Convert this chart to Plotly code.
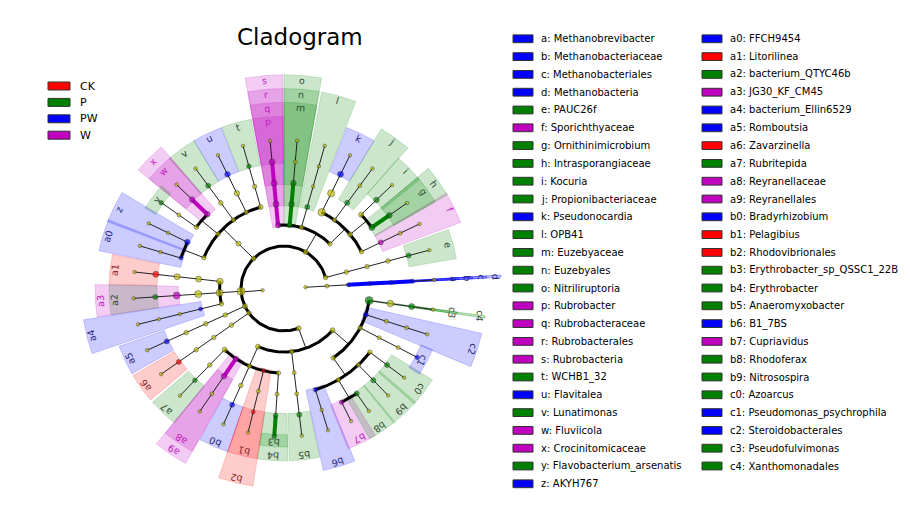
import numpy as np
import plotly.graph_objects as go

# groups
GROUPS = ["CK", "P", "PW", "W"]
GROUP_COLORS = ["#ff0000", "#008000", "#0000ff", "#bf00bf"]
LABEL_COLORS = ["#8c2626", "#2f4a2f", "#26267a", "#c020c0"]

# biomarkers (legend)
MARKER_IDS = ["a", "b", "c", "d", "e", "f", "g", "h", "i", "j", "k", "l", "m",
              "n", "o", "p", "q", "r", "s", "t", "u", "v", "w", "x", "y", "z",
              "a0", "a1", "a2", "a3", "a4", "a5", "a6", "a7", "a8", "a9",
              "b0", "b1", "b2", "b3", "b4", "b5", "b6", "b7", "b8", "b9",
              "c0", "c1", "c2", "c3", "c4"]
MARKER_NAMES = ["Methanobrevibacter", "Methanobacteriaceae", "Methanobacteriales",
                "Methanobacteria", "PAUC26f", "Sporichthyaceae", "Ornithinimicrobium",
                "Intrasporangiaceae", "Kocuria", "Propionibacteriaceae", "Pseudonocardia",
                "OPB41", "Euzebyaceae", "Euzebyales", "Nitriliruptoria", "Rubrobacter",
                "Rubrobacteraceae", "Rubrobacterales", "Rubrobacteria", "WCHB1_32",
                "Flavitalea", "Lunatimonas", "Fluviicola", "Crocinitomicaceae",
                "Flavobacterium_arsenatis", "AKYH767",
                "FFCH9454", "Litorilinea", "bacterium_QTYC46b", "JG30_KF_CM45",
                "bacterium_Ellin6529", "Romboutsia", "Zavarzinella", "Rubritepida",
                "Reyranellaceae", "Reyranellales", "Bradyrhizobium", "Pelagibius",
                "Rhodovibrionales", "Erythrobacter_sp_QSSC1_22B", "Erythrobacter",
                "Anaeromyxobacter", "B1_7BS", "Cupriavidus", "Rhodoferax", "Nitrosospira",
                "Azoarcus", "Pseudomonas_psychrophila", "Steroidobacterales",
                "Pseudofulvimonas", "Xanthomonadales"]
MARKER_GROUPS = ["PW", "PW", "PW", "PW", "P", "W", "P", "P", "P", "P", "PW", "P", "P",
                 "P", "P", "W", "W", "W", "W", "P", "PW", "P", "W", "W", "P", "PW",
                 "PW", "CK", "P", "W", "PW", "PW", "CK", "P", "W", "W",
                 "PW", "CK", "CK", "P", "P", "P", "PW", "W", "P", "P",
                 "P", "PW", "PW", "P", "P"]

# taxonomy tree: (node, parent, dot size)
TREE = [
    ("Archaea", "root", 3.5), ("Euryarchaeota", "Archaea", 4), ("d", "Euryarchaeota", 4),
    ("c", "d", 4), ("b", "c", 4), ("a", "b", 4), ("s_Methanobrevibacter", "a", 3.5),
    ("Bacteria", "root", 3.5),
    ("Acidobacteria", "Bacteria", 4.5), ("Acidobacteriia", "Acidobacteria", 4.5),
    ("Acidobacteriales", "Acidobacteriia", 4.5), ("Acidobacteriaceae", "Acidobacteriales", 4.5),
    ("e", "Acidobacteriaceae", 5), ("s_PAUC26f", "e", 3.5),
    ("Actinobacteria", "Bacteria", 5), ("Actinobacteria_c", "Actinobacteria", 4.5),
    ("Pseudonocardiales", "Actinobacteria_c", 7.5), ("Pseudonocardiaceae", "Pseudonocardiales", 7),
    ("k", "Pseudonocardiaceae", 6), ("s_Pseudonocardia", "k", 3.5),
    ("Propionibacteriales", "Actinobacteria_c", 4.5), ("j", "Propionibacteriales", 5),
    ("g_Propionibacteriaceae", "j", 4), ("s_Propionibacteriaceae", "g_Propionibacteriaceae", 3.5),
    ("Micrococcales", "Actinobacteria_c", 5), ("Micrococcaceae", "Micrococcales", 5),
    ("i", "Micrococcaceae", 5.5), ("s_Kocuria", "i", 3.5),
    ("h", "Micrococcales", 6), ("g", "h", 5.5), ("s_Ornithinimicrobium", "g", 3.5),
    ("Frankiales", "Actinobacteria_c", 4.5), ("f", "Frankiales", 5),
    ("g_Sporichthyaceae", "f", 4), ("s_Sporichthyaceae", "g_Sporichthyaceae", 3.5),
    ("Thermoleophilia", "Actinobacteria", 4.5), ("l", "Thermoleophilia", 5),
    ("f_OPB41", "l", 3.5), ("g_OPB41", "f_OPB41", 3.5), ("s_OPB41", "g_OPB41", 3.5),
    ("o", "Actinobacteria", 5), ("n", "o", 5.5), ("m", "n", 5.5),
    ("g_Euzebya", "m", 4), ("s_Euzebya", "g_Euzebya", 3.5),
    ("s", "Actinobacteria", 5.5), ("r", "s", 6), ("q", "r", 6), ("p", "q", 6),
    ("s_Rubrobacter", "p", 3.5),
    ("Bacteroidetes", "Bacteria", 5), ("Bacteroidia", "Bacteroidetes", 5),
    ("o_WCHB1_32", "Bacteroidia", 5), ("f_WCHB1_32", "o_WCHB1_32", 4.5),
    ("t", "f_WCHB1_32", 4.5), ("s_WCHB1_32", "t", 3.5),
    ("Chitinophagales", "Bacteroidia", 4.5), ("Chitinophagaceae", "Chitinophagales", 5.5),
    ("u", "Chitinophagaceae", 5.5), ("s_Flavitalea", "u", 3.5),
    ("Cytophagales", "Bacteroidia", 4.5), ("Cyclobacteriaceae", "Cytophagales", 4.5),
    ("v", "Cyclobacteriaceae", 5), ("s_Lunatimonas", "v", 3.5),
    ("Flavobacteriales", "Bacteroidia", 4.5), ("x", "Flavobacteriales", 5.5),
    ("w", "x", 5.5), ("s_Fluviicola", "w", 3.5),
    ("Flavobacteriaceae", "Flavobacteriales", 4.5), ("Flavobacterium", "Flavobacteriaceae", 4),
    ("y", "Flavobacterium", 4.5),
    ("o_AKYH767", "Bacteroidia", 4.5), ("z", "o_AKYH767", 5.5),
    ("g_AKYH767", "z", 3.5), ("s_AKYH767", "g_AKYH767", 3.5),
    ("a0", "o_AKYH767", 4), ("g_FFCH9454", "a0", 3.5), ("s_FFCH9454", "g_FFCH9454", 3.5),
    ("Chloroflexi", "Bacteria", 8), ("Anaerolineae", "Chloroflexi", 6.5),
    ("Anaerolineales", "Anaerolineae", 6), ("Anaerolineaceae", "Anaerolineales", 6),
    ("a1", "Anaerolineaceae", 6), ("s_Litorilinea", "a1", 3.5),
    ("Chloroflexia", "Chloroflexi", 7), ("o_JG30_KF_CM45", "Chloroflexia", 7),
    ("a3", "o_JG30_KF_CM45", 7), ("a2", "a3", 5), ("s_bacterium_QTYC46b", "a2", 3.5),
    ("Ktedonobacteria", "Chloroflexi", 4.5), ("a4", "Ktedonobacteria", 4),
    ("f_Ellin6529", "a4", 3.5), ("g_Ellin6529", "f_Ellin6529", 3.5),
    ("s_bacterium_Ellin6529", "g_Ellin6529", 3.5),
    ("Firmicutes", "Bacteria", 5), ("Clostridia", "Firmicutes", 4.5),
    ("Clostridiales", "Clostridia", 4.5), ("Peptostreptococcaceae", "Clostridiales", 4.5),
    ("a5", "Peptostreptococcaceae", 5), ("s_Romboutsia", "a5", 3.5),
    ("Planctomycetes", "Bacteria", 4.5), ("Planctomycetacia", "Planctomycetes", 4.5),
    ("Gemmatales", "Planctomycetacia", 4.5), ("Gemmataceae", "Gemmatales", 4.5),
    ("a6", "Gemmataceae", 5), ("s_Zavarzinella", "a6", 3.5),
    ("Proteobacteria", "Bacteria", 5), ("Alphaproteobacteria", "Proteobacteria", 5),
    ("Acetobacterales", "Alphaproteobacteria", 5), ("Acetobacteraceae", "Acetobacterales", 4.5),
    ("a7", "Acetobacteraceae", 4.5), ("s_Rubritepida", "a7", 3.5),
    ("a9", "Alphaproteobacteria", 5), ("a8", "a9", 5.5),
    ("g_Reyranella", "a8", 4), ("s_Reyranella", "g_Reyranella", 3.5),
    ("Rhizobiales", "Alphaproteobacteria", 4.5), ("Xanthobacteraceae", "Rhizobiales", 4.5),
    ("b0", "Xanthobacteraceae", 5), ("s_Bradyrhizobium", "b0", 3.5),
    ("b2", "Alphaproteobacteria", 4), ("Rhodovibrionaceae", "b2", 4),
    ("b1", "Rhodovibrionaceae", 4), ("s_Pelagibius", "b1", 3.5),
    ("Sphingomonadales", "Alphaproteobacteria", 4.5), ("Sphingomonadaceae", "Sphingomonadales", 4),
    ("b4", "Sphingomonadaceae", 4.5), ("b3", "b4", 4.5),
    ("Deltaproteobacteria", "Proteobacteria", 4.5), ("Myxococcales", "Deltaproteobacteria", 4),
    ("Anaeromyxobacteraceae", "Myxococcales", 4), ("b5", "Anaeromyxobacteraceae", 5),
    ("s_Anaeromyxobacter", "b5", 3.5),
    ("Gammaproteobacteria", "Proteobacteria", 5),
    ("Betaproteobacteriales", "Gammaproteobacteria", 4.5),
    ("b6", "Betaproteobacteriales", 4.5), ("g_B1_7BS", "b6", 3.5), ("s_B1_7BS", "g_B1_7BS", 3.5),
    ("Burkholderiaceae", "Betaproteobacteriales", 4.5),
    ("b7", "Burkholderiaceae", 4.5), ("s_Cupriavidus", "b7", 3.5),
    ("b8", "Burkholderiaceae", 5), ("s_Rhodoferax", "b8", 3.5),
    ("Nitrosomonadaceae", "Betaproteobacteriales", 4.5), ("b9", "Nitrosomonadaceae", 5),
    ("s_Nitrosospira", "b9", 3.5),
    ("Rhodocyclaceae", "Betaproteobacteriales", 4.5), ("c0", "Rhodocyclaceae", 5),
    ("s_Azoarcus", "c0", 3.5),
    ("Pseudomonadales", "Gammaproteobacteria", 4.5), ("Pseudomonadaceae", "Pseudomonadales", 4),
    ("Pseudomonas", "Pseudomonadaceae", 4), ("c1", "Pseudomonas", 4.5),
    ("c2", "Gammaproteobacteria", 5), ("f_Steroidobacterales", "c2", 4),
    ("g_Steroidobacterales", "f_Steroidobacterales", 4),
    ("s_Steroidobacterales", "g_Steroidobacterales", 3.5),
    ("c4", "Gammaproteobacteria", 8), ("Rhodanobacteraceae", "c4", 6.5),
    ("c3", "Rhodanobacteraceae", 6), ("s_Pseudofulvimonas", "c3", 3.5),
]

# leaf positions around the circle (degrees, counter-clockwise from east)
LEAVES = ["s_Methanobrevibacter", "s_PAUC26f", "s_Sporichthyaceae", "s_Ornithinimicrobium",
          "s_Kocuria", "s_Propionibacteriaceae", "s_Pseudonocardia", "s_OPB41", "s_Euzebya",
          "s_Rubrobacter", "s_WCHB1_32", "s_Flavitalea", "s_Lunatimonas", "s_Fluviicola",
          "y", "s_AKYH767", "s_FFCH9454", "s_Litorilinea", "s_bacterium_QTYC46b",
          "s_bacterium_Ellin6529", "s_Romboutsia", "s_Zavarzinella", "s_Rubritepida",
          "s_Reyranella", "s_Bradyrhizobium", "s_Pelagibius", "b3", "s_Anaeromyxobacter",
          "s_B1_7BS", "s_Cupriavidus", "s_Rhodoferax", "s_Nitrosospira", "s_Azoarcus",
          "c1", "s_Steroidobacterales", "s_Pseudofulvimonas"]
LEAF_ANGLES = [3.3, 15, 25.8, 35.2, 44.2, 54, 64, 74.3, 85, 95.3, 105.8, 116, 126, 135.5,
               144.6, 154, 163.3, 173.6, 183.8, 194, 204.6, 215.3, 226.3, 236, 246.3, 256.2,
               266.3, 276.8, 287, 296.5, 304.3, 313.8, 323, 332.3, 342, 351.8]

THIN_WEDGES = ["a", "b", "c", "d", "c3", "c4"]

STEP = 21.5          # radius per taxonomic level
YELLOW = "#bfbf00"


def rgba(hex_color, alpha):
    h = hex_color.lstrip("#")
    return "rgba(%d,%d,%d,%s)" % (int(h[0:2], 16), int(h[2:4], 16), int(h[4:6], 16), alpha)


def pxy(r, deg):
    t = np.radians(deg)
    return r * np.cos(t), r * np.sin(t)


def ring(level):
    return 156 + 14 * (7 - level)


parent = {n: p for n, p, s in TREE}
children = {}
for n, p, s in TREE:
    children.setdefault(p, []).append(n)
leaf_angle = dict(zip(LEAVES, LEAF_ANGLES))
grp = dict(zip(MARKER_IDS, MARKER_GROUPS))
gcol = dict(zip(GROUPS, GROUP_COLORS))
lcol = dict(zip(GROUPS, LABEL_COLORS))

depth = {}
for n, p, s in TREE:
    d, q = 0, n
    while q != "root":
        q = parent[q]
        d += 1
    depth[n] = d


def leaves_of(n):
    if n not in children:
        return [leaf_angle[n]]
    out = []
    for c in children[n]:
        out += leaves_of(c)
    return out


ang = {n: float(np.mean(leaves_of(n))) for n, p, s in TREE}

fig = go.Figure()

# highlighted clades
for m in MARKER_IDS:
    L = depth[m]
    th = ang[m]
    thin = m in THIN_WEDGES
    half = 0.3 if thin else 5.0
    r_in, r_out = L * STEP - 2, ring(L) + 5
    t = np.linspace(th - half, th + half, 24)
    xo, yo = pxy(r_out, t)
    xi, yi = pxy(r_in, t[::-1])
    col = gcol[grp[m]]
    fig.add_trace(go.Scatter(
        x=np.concatenate([xo, xi, xo[:1]]), y=np.concatenate([yo, yi, yo[:1]]),
        mode="lines", fill="toself", fillcolor=rgba(col, 0.2),
        line=dict(color=rgba(col, 0.35 if thin else 0.25), width=1 if thin else 0.7),
        hoverinfo="skip", showlegend=False))

# branches: radial stems, sibling arcs, coloured biomarker links
thin_x, thin_y, arc_x, arc_y = [], [], [], []
col_lines = {g: ([], []) for g in GROUPS}
for n, kids in children.items():
    if n == "root":
        continue
    L = depth[n]
    th = ang[n]
    x0, y0 = pxy(L * STEP, th)
    x1, y1 = pxy((L + 1) * STEP, th)
    k0 = kids[0]
    if n in grp and len(kids) == 1 and k0 in grp and grp[k0] == grp[n]:
        cx, cy = col_lines[grp[n]]
        cx += [x0, x1, None]
        cy += [y0, y1, None]
    else:
        thin_x += [x0, x1, None]
        thin_y += [y0, y1, None]
    if len(kids) > 1:
        ka = [ang[k] for k in kids]
        t = np.linspace(min(ka), max(ka), 120)
        ax_, ay_ = pxy((L + 1) * STEP, t)
        arc_x += list(ax_) + [None]
        arc_y += list(ay_) + [None]

fig.add_trace(go.Scatter(x=thin_x, y=thin_y, mode="lines",
                         line=dict(color="#222222", width=1),
                         hoverinfo="skip", showlegend=False))
fig.add_trace(go.Scatter(x=arc_x, y=arc_y, mode="lines",
                         line=dict(color="black", width=3),
                         hoverinfo="skip", showlegend=False))
for g in GROUPS:
    cx, cy = col_lines[g]
    if cx:
        fig.add_trace(go.Scatter(x=cx, y=cy, mode="lines",
                                 line=dict(color=gcol[g], width=4),
                                 hoverinfo="skip", showlegend=False))

# nodes
nx, ny, nc, ns = [], [], [], []
for n, p, s in TREE:
    x, y = pxy(depth[n] * STEP, ang[n])
    nx.append(x)
    ny.append(y)
    nc.append(gcol[grp[n]] if n in grp else YELLOW)
    ns.append(s)
fig.add_trace(go.Scatter(x=nx, y=ny, mode="markers",
                         marker=dict(color=nc, size=ns, line=dict(color="#222222", width=0.6)),
                         hoverinfo="skip", showlegend=False))

# clade letters
for m in MARKER_IDS:
    L = depth[m]
    th = ang[m]
    x, y = pxy(ring(L), th)
    rot = 90 - th
    if rot < -180:
        rot += 360
    fig.add_annotation(x=x, y=y, text=m, showarrow=False, textangle=rot,
                       font=dict(family="DejaVu Sans", size=9.5, color=lcol[grp[m]]))

W, H = 910, 505
OFF = 8              # page body margin
CX, CY = 284, 288.5  # tree centre in the picture
SY = 0.985           # slight vertical squeeze of the reference


def px(x):
    return (x - OFF) / W


def py(y):
    return 1 - (y - OFF) / H


shapes = []
annotations = []

# group legend (top left)
for i, g in enumerate(GROUPS):
    yc = 86 + 16.4 * i
    shapes.append(dict(type="rect", xref="paper", yref="paper",
                       x0=px(48), x1=px(70), y0=py(yc + 4), y1=py(yc - 4),
                       fillcolor=gcol[g], line=dict(color="#333333", width=1)))
    annotations.append(dict(xref="paper", yref="paper", x=px(78), y=py(yc),
                            text=g, showarrow=False, xanchor="left", yanchor="middle",
                            font=dict(family="DejaVu Sans", size=11, color="black")))

# biomarker legend (right, two columns)
for i, (m, name, g) in enumerate(zip(MARKER_IDS, MARKER_NAMES, MARKER_GROUPS)):
    col = 0 if i < 26 else 1
    row = i if i < 26 else i - 26
    bx = 513 if col == 0 else 702
    yc = 38.8 + 17.8 * row
    shapes.append(dict(type="rect", xref="paper", yref="paper",
                       x0=px(bx), x1=px(bx + 20), y0=py(yc + 3.9), y1=py(yc - 3.9),
                       fillcolor=gcol[g], line=dict(color="#333333", width=1)))
    annotations.append(dict(xref="paper", yref="paper", x=px(bx + 26), y=py(yc),
                            text="%s: %s" % (m, name), showarrow=False,
                            xanchor="left", yanchor="middle",
                            font=dict(family="DejaVu Sans", size=10, color="black")))

annotations.append(dict(xref="paper", yref="paper", x=px(300), y=py(37),
                        text="Cladogram", showarrow=False, xanchor="center", yanchor="middle",
                        font=dict(family="DejaVu Sans", size=23, color="black")))

x_lo = -(CX - OFF)
y_hi = (CY - OFF) / SY
fig.update_layout(
    width=W, height=H, margin=dict(l=0, r=0, t=0, b=0),
    paper_bgcolor="white", plot_bgcolor="white",
    xaxis=dict(range=[x_lo, x_lo + W], visible=False, fixedrange=True),
    yaxis=dict(range=[y_hi - H / SY, y_hi], visible=False, fixedrange=True),
    shapes=shapes, showlegend=False,
)
for a in annotations:
    fig.add_annotation(**a)

fig.write_html("out.html")
